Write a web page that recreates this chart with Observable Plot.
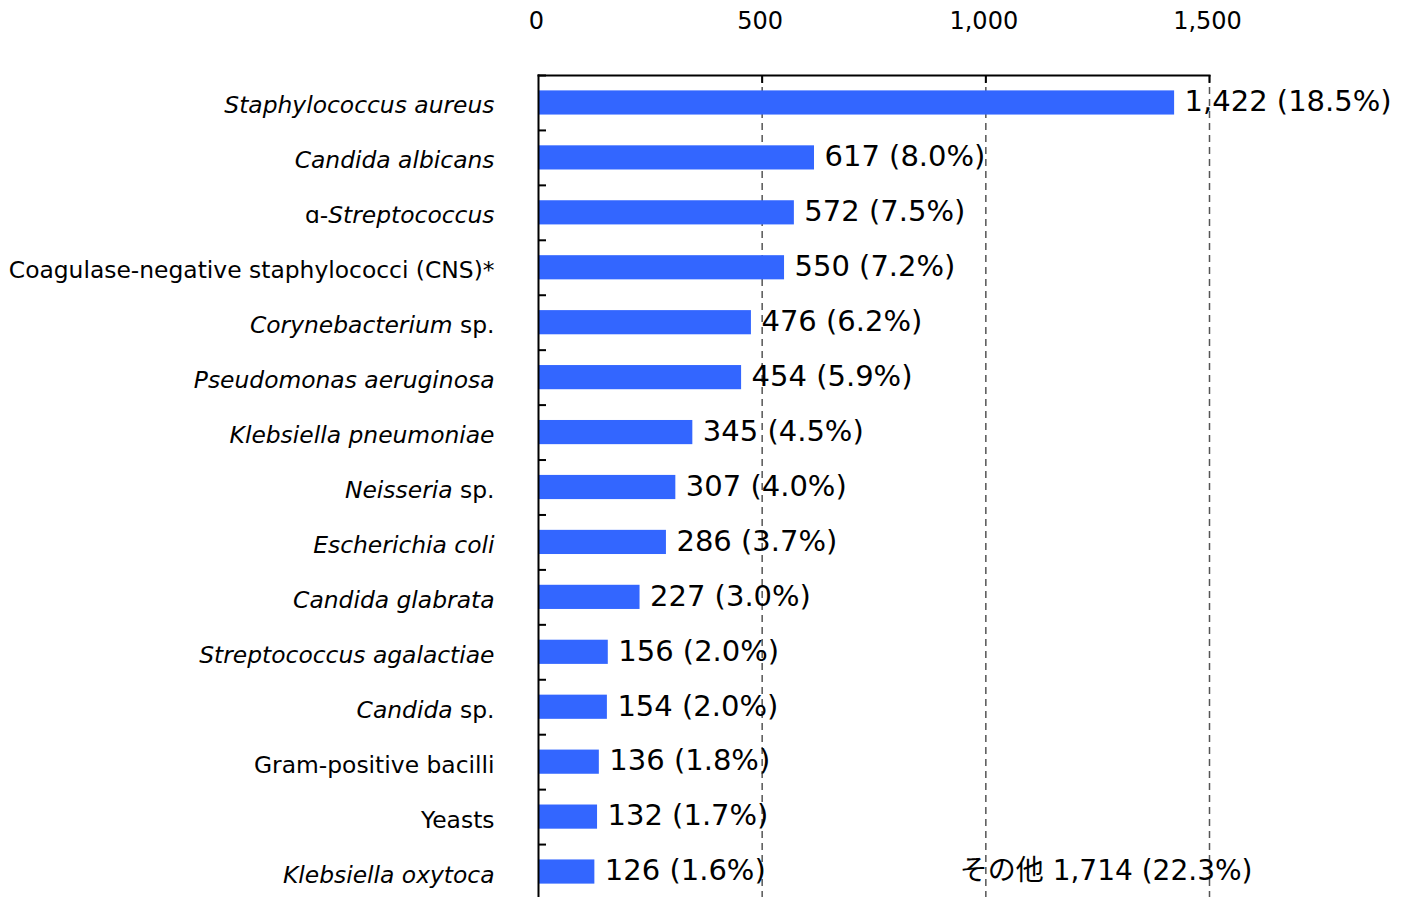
<!DOCTYPE html>
<html><head><meta charset="utf-8">
<script src="https://cdn.jsdelivr.net/npm/d3@7"></script>
<script src="https://cdn.jsdelivr.net/npm/@observablehq/plot@0.6"></script>
<style>body{margin:0;overflow:hidden;background:#fff}</style>
</head><body><div id="chart"></div>
<script>
const categories = [
  "Staphylococcus aureus",
  "Candida albicans",
  "ɑ-Streptococcus",
  "Coagulase-negative staphylococci (CNS)*",
  "Corynebacterium sp.",
  "Pseudomonas aeruginosa",
  "Klebsiella pneumoniae",
  "Neisseria sp.",
  "Escherichia coli",
  "Candida glabrata",
  "Streptococcus agalactiae",
  "Candida sp.",
  "Gram-positive bacilli",
  "Yeasts",
  "Klebsiella oxytoca"
];
const italicParts = [
  "Staphylococcus aureus",
  "Candida albicans",
  "Streptococcus",
  "",
  "Corynebacterium",
  "Pseudomonas aeruginosa",
  "Klebsiella pneumoniae",
  "Neisseria",
  "Escherichia coli",
  "Candida glabrata",
  "Streptococcus agalactiae",
  "Candida",
  "",
  "",
  "Klebsiella oxytoca"
];
const counts = [1422, 617, 572, 550, 476, 454, 345, 307, 286, 227, 156, 154, 136, 132, 126];
const percents = [18.5, 8.0, 7.5, 7.2, 6.2, 5.9, 4.5, 4.0, 3.7, 3.0, 2.0, 2.0, 1.8, 1.7, 1.6];
const xTicks = [0, 500, 1000, 1500];
const otherLabel = "その他";
const otherCount = 1714;
const otherPercent = 22.3;

const data = categories.map((c, i) => ({category: c, count: counts[i], pct: percents[i]}));
const fmt = d3.format(",");
const W = 1408, H = 900, mL = 538, mR = 199, mT = 75, mB = 1;
const frameW = W - mL - mR, frameH = H - mT - mB;
const step = frameH / categories.length;

const chart = Plot.plot({
  width: W, height: H,
  marginLeft: mL, marginRight: mR, marginTop: mT, marginBottom: mB,
  style: {fontFamily: "'DejaVu Sans', 'Noto Sans CJK JP', sans-serif", background: "white", color: "black"},
  x: {domain: [0, 1500], axis: null, label: null},
  y: {domain: categories, paddingInner: 0.56, paddingOuter: 0.28, round: false, axis: null},
  marks: [
    Plot.ruleX(xTicks.slice(1), {stroke: "#555", strokeWidth: 1.5, strokeDasharray: "7,5"}),
    Plot.barX(data, {x: "count", y: "category", fill: "#3366ff"}),
    Plot.tickX(xTicks.slice(1), {stroke: "black", strokeWidth: 2, insetBottom: frameH - 8}),
    Plot.tickY(categories, {y: d => d, stroke: "black", strokeWidth: 2, dy: -step / 2, insetRight: frameW - 8}),
    Plot.frame({anchor: "top", stroke: "black", strokeWidth: 2}),
    Plot.frame({anchor: "left", stroke: "black", strokeWidth: 2}),
    Plot.axisX({anchor: "top", ticks: xTicks, tickSize: 0, tickPadding: 47, tickFormat: d3.format(","), fontSize: 24, dx: -2, label: null, fill: "black"}),
    Plot.text(data, {y: "category", text: "category", frameAnchor: "left", textAnchor: "end", dx: -44, dy: 3, fontSize: 23.4, fill: "black"}),
    Plot.text(data, {x: "count", y: "category", text: d => `${fmt(d.count)} (${d.pct.toFixed(1)}%)`, textAnchor: "start", dx: 10, dy: -1, fontSize: 29, fill: "black"}),
    Plot.text([{label: otherLabel, count: otherCount, pct: otherPercent}], {
      x: () => xTicks[xTicks.length - 1], y: () => categories[categories.length - 1],
      text: d => `${d.label} ${fmt(d.count)} (${d.pct.toFixed(1)}%)`,
      textAnchor: "end", dx: 43, dy: -1, fontSize: 28, fill: "black"
    })
  ]
});

d3.select(chart).selectAll("text").each(function() {
  const t = this.textContent;
  const i = categories.indexOf(t);
  if (i < 0 || !italicParts[i]) return;
  const it = italicParts[i];
  const k = t.indexOf(it);
  const before = t.slice(0, k), after = t.slice(k + it.length);
  const el = d3.select(this);
  el.text(null);
  if (before) el.append("tspan").text(before);
  el.append("tspan").attr("font-style", "italic").text(it);
  if (after) el.append("tspan").text(after);
});

document.getElementById("chart").appendChild(chart);
</script>
</body></html>
